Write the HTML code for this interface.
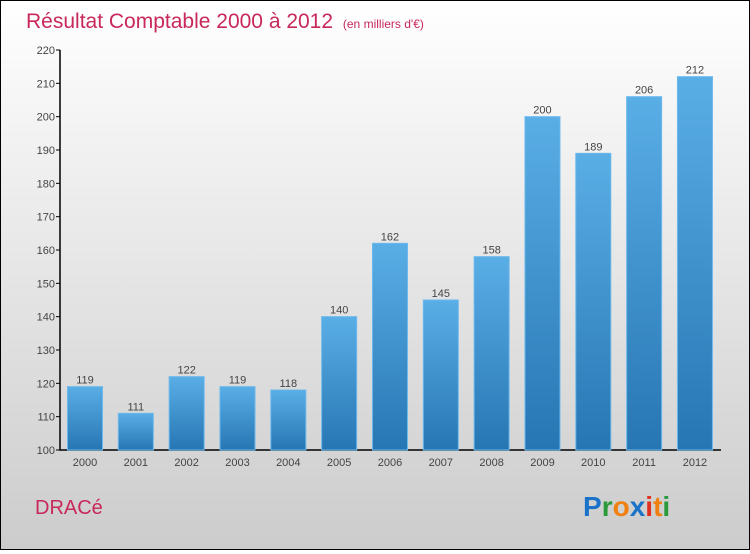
<!DOCTYPE html>
<html><head><meta charset="utf-8"><style>
body{margin:0}
#wrap{width:748px;height:548px;border:1px solid #000;background:linear-gradient(#ffffff,#f2f2f2 25%,#cccccc);position:relative;font-family:"Liberation Sans",sans-serif}
</style></head><body>
<div id="wrap">
<svg id="chart" width="748" height="548">
<defs><linearGradient id="bg" x1="0" y1="0" x2="0" y2="1"><stop offset="0" stop-color="#5aaee6"/><stop offset="1" stop-color="#2676b3"/></linearGradient></defs>
<text x="25" y="27" font-size="21" fill="#c8285a">Résultat Comptable 2000 à 2012 <tspan font-size="12" dx="4">(en milliers d'€)</tspan></text>
<text x="34" y="513" font-size="20" fill="#c8285a">DRACé</text>
<text x="582" y="515" font-size="28" font-weight="bold"><tspan fill="#1a73c8">P</tspan><tspan fill="#2a9a3a">r</tspan><tspan fill="#f08010">o</tspan><tspan fill="#1a73c8">x</tspan><tspan fill="#e03020">i</tspan><tspan fill="#f08010">t</tspan><tspan fill="#2a9a3a">i</tspan></text>
</svg></div>
<script>
const years=["2000","2001","2002","2003","2004","2005","2006","2007","2008","2009","2010","2011","2012"];
const values=[119,111,122,119,118,140,162,145,158,200,189,206,212];
const yTicks=[100,110,120,130,140,150,160,170,180,190,200,210,220];
const svg=document.getElementById('chart');const NS='http://www.w3.org/2000/svg';
const y=v=>449-(v-100)*(400/120);
const x=i=>84+i*50.83;
function mk(t,a){const e=document.createElementNS(NS,t);for(const k in a)e.setAttribute(k,a[k]);svg.appendChild(e);return e;}
const ax=mk('path',{d:'M59,49V449H720',stroke:'#000','stroke-width':1.5,fill:'none'});


yTicks.forEach(v=>{
const tk=mk('line',{x1:55,x2:59,y1:y(v),y2:y(v),stroke:'#000'});


const t=mk('text',{x:54,y:y(v)+4,'text-anchor':'end','font-size':11,fill:'#444'});t.textContent=v;


});
years.forEach((yr,i)=>{
const v=values[i];
const b=mk('rect',{x:x(i)-17.5,y:y(v),width:35,height:y(100)-y(v),fill:'url(#bg)',stroke:'#6bb8ec','stroke-width':1});


const l=mk('text',{x:x(i),y:y(v)-3,'text-anchor':'middle','font-size':11,fill:'#444'});l.textContent=v;


const xl=mk('text',{x:x(i),y:465,'text-anchor':'middle','font-size':11,fill:'#444'});xl.textContent=yr;


});
</script>
</body></html>
